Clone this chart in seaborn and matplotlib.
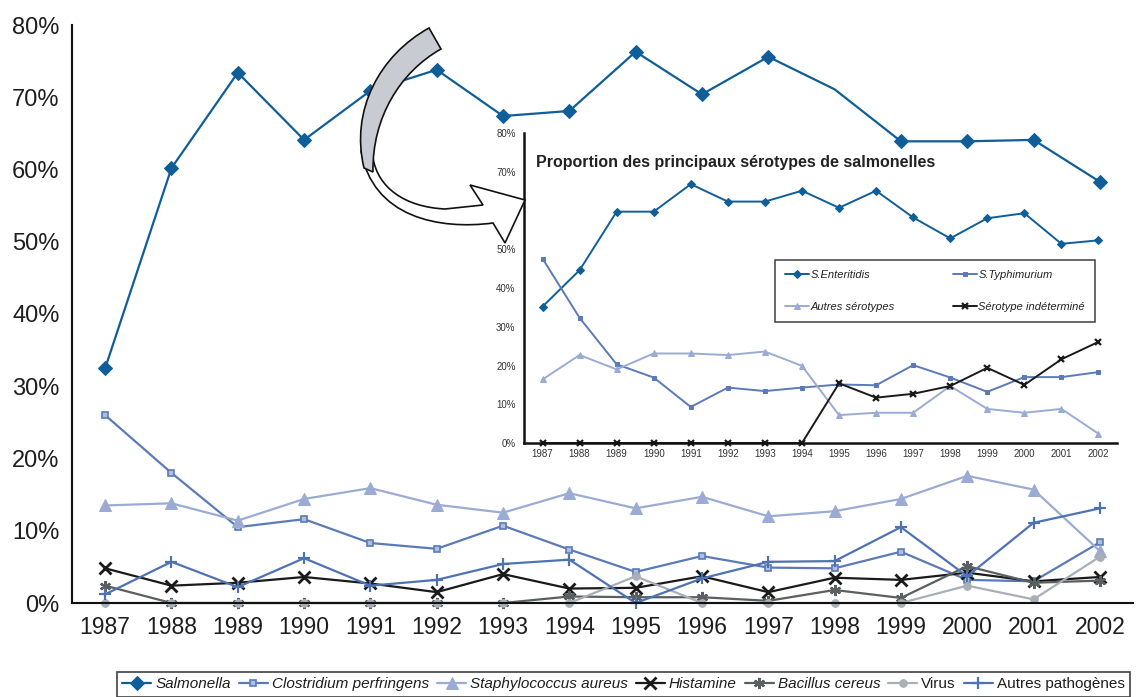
import numpy as np
import pandas as pd
import seaborn as sns
import matplotlib
matplotlib.use("Agg")
import matplotlib.pyplot as plt
from matplotlib.path import Path
from matplotlib.patches import PathPatch
from matplotlib.ticker import FixedLocator, NullFormatter

# ---------------------------------------------------------------- data
years = list(range(1987, 2003))

# Agents responsables des foyers (% des foyers)
salmonella = [32.5, 60.2, 73.4, 64.1, 70.9, 73.8, 67.4, 68.1, 76.3, 70.4, 75.6, 71.1, 63.9, 63.9, 64.1, 58.3]
clostridium = [26.0, 18.0, 10.5, 11.6, 8.3, 7.5, 10.7, 7.4, 4.3, 6.5, 4.9, 4.8, 7.1, 3.2, 3.0, 8.4]
staphylococcus = [13.5, 13.8, 11.4, 14.4, 15.9, 13.6, 12.5, 15.2, 13.1, 14.7, 12.0, 12.7, 14.4, 17.6, 15.7, 7.2]
histamine = [4.8, 2.4, 2.8, 3.6, 2.7, 1.5, 4.0, 2.0, 2.1, 3.7, 1.5, 3.5, 3.2, 4.2, 3.0, 3.6]
bacillus = [2.4, 0.0, 0.0, 0.0, 0.0, 0.0, 0.0, 0.9, 0.8, 0.8, 0.3, 1.8, 0.7, 5.1, 2.8, 3.1]
virus = [0.0, 0.0, 0.0, 0.0, 0.0, 0.0, 0.0, 0.0, 3.7, 0.0, 0.0, 0.0, 0.0, 2.4, 0.5, 6.4]
autres_pathogenes = [1.2, 5.7, 2.2, 6.2, 2.4, 3.2, 5.4, 6.0, 0.0, 3.4, 5.7, 5.8, 10.5, 3.7, 11.1, 13.1]

# Sérotypes de salmonelles (% des foyers à salmonelles)
s_enteritidis = [35.2, 44.6, 59.7, 59.7, 66.8, 62.3, 62.3, 65.1, 60.7, 65.1, 58.2, 52.8, 58.0, 59.3, 51.4, 52.3]
s_typhimurium = [47.6, 32.3, 20.3, 16.9, 9.3, 14.3, 13.4, 14.3, 15.1, 14.9, 20.1, 16.9, 13.2, 17.0, 17.0, 18.3]
autres_serotypes = [16.4, 22.7, 19.0, 23.1, 23.1, 22.7, 23.6, 19.9, 7.2, 7.8, 7.8, 14.7, 8.8, 7.8, 8.8, 2.4]
serotype_indetermine = [0.0, 0.0, 0.0, 0.0, 0.0, 0.0, 0.0, 0.0, 15.4, 11.7, 12.7, 14.7, 19.4, 15.0, 21.6, 26.1]

main_labels = ["Salmonella", "Clostridium perfringens", "Staphylococcus aureus",
               "Histamine", "Bacillus cereus", "Virus", "Autres pathogènes"]
inset_labels = ["S.Enteritidis", "S.Typhimurium", "Autres sérotypes", "Sérotype indéterminé"]
y_ticks = [0, 10, 20, 30, 40, 50, 60, 70, 80]

main_df = pd.DataFrame({"year": years,
                        main_labels[0]: salmonella, main_labels[1]: clostridium,
                        main_labels[2]: staphylococcus, main_labels[3]: histamine,
                        main_labels[4]: bacillus, main_labels[5]: virus,
                        main_labels[6]: autres_pathogenes})
inset_df = pd.DataFrame({"year": years,
                         inset_labels[0]: s_enteritidis, inset_labels[1]: s_typhimurium,
                         inset_labels[2]: autres_serotypes, inset_labels[3]: serotype_indetermine})

# ---------------------------------------------------------------- style
sns.set_theme(style="white")
plt.rcParams["font.family"] = ["Liberation Sans", "DejaVu Sans"]
NARROW = ["Liberation Sans Narrow", "Liberation Sans", "DejaVu Sans"]

c_sal = "#0f5e98"
c_clo = "#5a7ab8"
c_sta = "#9babd3"
c_his = "#1a1a1a"
c_bac = "#5a5f60"
c_vir = "#a9afb6"
c_aut = "#4f72b3"

asterisk = (6, 2, 0)

main_styles = {
    "Salmonella": dict(color=c_sal, marker="D", markersize=7.5, mfc=c_sal, mec=c_sal,
                       markevery=[i for i in range(16) if i != 11]),
    "Clostridium perfringens": dict(color=c_clo, marker="s", markersize=5, mfc="#aebde0", mec=c_clo, mew=1.2),
    "Staphylococcus aureus": dict(color=c_sta, marker="^", markersize=8, mfc=c_sta, mec=c_sta),
    "Histamine": dict(color=c_his, marker="x", markersize=8.5, mew=2.0, mec=c_his),
    "Bacillus cereus": dict(color=c_bac, marker=asterisk, markersize=8, mew=1.6, mec=c_bac),
    "Virus": dict(color=c_vir, marker="o", markersize=5.5, mfc=c_vir, mec=c_vir),
    "Autres pathogènes": dict(color=c_aut, marker="+", markersize=9, mew=1.6, mec=c_aut),
}
inset_styles = {
    "S.Enteritidis": dict(color=c_sal, marker="D", markersize=4.2, mfc=c_sal, mec=c_sal),
    "S.Typhimurium": dict(color=c_clo, marker="s", markersize=3.5, mfc=c_clo, mec=c_clo),
    "Autres sérotypes": dict(color=c_sta, marker="^", markersize=5, mfc=c_sta, mec=c_sta),
    "Sérotype indéterminé": dict(color=c_his, marker="x", markersize=5, mew=1.6, mec=c_his),
}

W, H = 1137, 697
fig = plt.figure(figsize=(W / 100, H / 100), dpi=100)
fig.patch.set_facecolor("white")


def fx(px):
    return px / W


def fy(py):
    return 1 - py / H


# ---------------------------------------------------------------- main chart
ax = fig.add_axes([fx(72), fy(603), fx(1133) - fx(72), fy(25) - fy(603)])
ax.patch.set_visible(False)
for name in main_labels:
    sns.lineplot(data=main_df, x="year", y=name, ax=ax, label=name, linewidth=1.6,
                 clip_on=False, **main_styles[name])
if ax.get_legend() is not None:
    ax.get_legend().remove()

ax.set_xlim(years[0] - 0.5, years[-1] + 0.5)
ax.set_ylim(0, 80)
ax.set_xlabel("")
ax.set_ylabel("")
ax.xaxis.set_major_locator(FixedLocator(years))
ax.set_xticklabels([str(y) for y in years])
ax.xaxis.set_minor_locator(FixedLocator([y - 0.5 for y in years] + [years[-1] + 0.5]))
ax.xaxis.set_minor_formatter(NullFormatter())
ax.tick_params(axis="x", which="major", length=0, pad=9, labelsize=16.5, labelcolor="#1e1e1e")
ax.tick_params(axis="x", which="minor", length=7, width=1.5, color="#111111", direction="out")
ax.set_yticks(y_ticks)
ax.set_yticklabels([f"{v}%" for v in y_ticks])
ax.tick_params(axis="y", length=5, width=1.5, color="#111111", direction="out", pad=4,
               labelsize=17, labelcolor="#1e1e1e")
for side in ("top", "right"):
    ax.spines[side].set_visible(False)
for side in ("left", "bottom"):
    ax.spines[side].set_color("#111111")
    ax.spines[side].set_linewidth(1.5)

handles, labels = ax.get_legend_handles_labels()
leg = fig.legend(handles, labels, ncol=7, loc="upper left",
                 bbox_to_anchor=(fx(117), fy(672) - 0.06, fx(1130) - fx(117), 0.06),
                 mode="expand", borderaxespad=0, frameon=True, fancybox=False,
                 edgecolor="#111111", handlelength=1.9, handletextpad=0.25,
                 columnspacing=0.6, borderpad=0.35, prop={"family": NARROW, "size": 11})
leg.get_frame().set_linewidth(1.2)
for txt in leg.get_texts():
    if txt.get_text() not in ("Virus", "Autres pathogènes"):
        txt.set_fontstyle("italic")
    txt.set_color("#1e1e1e")

# ---------------------------------------------------------------- inset chart
axi = fig.add_axes([fx(524), fy(443), fx(1117) - fx(524), fy(133) - fy(443)], zorder=3)
axi.patch.set_visible(False)
for name in inset_labels:
    sns.lineplot(data=inset_df, x="year", y=name, ax=axi, label=name, linewidth=1.4,
                 clip_on=False, **inset_styles[name])
if axi.get_legend() is not None:
    axi.get_legend().remove()

axi.set_xlim(years[0] - 0.5, years[-1] + 0.5)
axi.set_ylim(0, 80)
axi.set_xlabel("")
axi.set_ylabel("")
axi.xaxis.set_major_locator(FixedLocator(years))
axi.set_xticklabels([str(y) for y in years])
axi.xaxis.set_minor_locator(FixedLocator([y - 0.5 for y in years] + [years[-1] + 0.5]))
axi.xaxis.set_minor_formatter(NullFormatter())
axi.tick_params(axis="x", which="major", length=0, pad=4, labelsize=7, labelcolor="#333333")
axi.tick_params(axis="x", which="minor", length=3.5, width=1.3, color="#111111", direction="out")
axi.set_yticks(y_ticks)
axi.set_yticklabels([f"{v}%" for v in y_ticks])
axi.tick_params(axis="y", length=3, width=1.3, color="#111111", direction="out", pad=3,
                labelsize=7, labelcolor="#333333")
for t in axi.get_xticklabels() + axi.get_yticklabels():
    t.set_family(NARROW)
for side in ("top", "right"):
    axi.spines[side].set_visible(False)
for side in ("left", "bottom"):
    axi.spines[side].set_color("#111111")
    axi.spines[side].set_linewidth(1.8)

fig.text(fx(536), fy(162), "Proportion des principaux sérotypes de salmonelles",
         fontsize=11.5, fontweight="bold", color="#222222", va="center", ha="left", zorder=5)

# row-wise order in a two-column legend
h_in, l_in = axi.get_legend_handles_labels()
order = [0, 2, 1, 3]
leg_in = fig.legend([h_in[i] for i in order], [l_in[i] for i in order], ncol=2, loc="upper left",
                    bbox_to_anchor=(fx(775), fy(260) - 0.05, fx(1095) - fx(775), 0.05),
                    mode="expand", borderaxespad=0, frameon=True, fancybox=False,
                    edgecolor="#111111", handlelength=2.2, handletextpad=0.1,
                    labelspacing=2.0, borderpad=0.9, columnspacing=1.0,
                    prop={"family": NARROW, "size": 8, "style": "italic"})
leg_in.get_frame().set_linewidth(1.1)
leg_in.set_zorder(6)
for txt in leg_in.get_texts():
    txt.set_color("#222222")

# ---------------------------------------------------------------- curved arrow
ov = fig.add_axes([0, 0, 1, 1], zorder=10)
ov.set_xlim(0, W)
ov.set_ylim(H, 0)
ov.axis("off")
ov.patch.set_visible(False)

white_part = Path(
    [(373, 158), (378, 188), (405, 207), (445, 209),
     (483, 205), (470, 185), (525, 200), (505, 243), (493, 223),
     (440, 230), (372, 218), (361, 150), (373, 158)],
    [Path.MOVETO, Path.CURVE4, Path.CURVE4, Path.CURVE4,
     Path.LINETO, Path.LINETO, Path.LINETO, Path.LINETO, Path.LINETO,
     Path.CURVE4, Path.CURVE4, Path.CURVE4, Path.CLOSEPOLY])
ov.add_patch(PathPatch(white_part, facecolor="white", edgecolor="#111111", linewidth=1.2))

gray_part = Path(
    [(429, 28), (380, 55), (350, 110), (364, 168),
     (373, 172), (372, 118), (400, 72), (441, 49), (429, 28)],
    [Path.MOVETO, Path.CURVE4, Path.CURVE4, Path.CURVE4,
     Path.LINETO, Path.CURVE4, Path.CURVE4, Path.CURVE4, Path.CLOSEPOLY])
ov.add_patch(PathPatch(gray_part, facecolor="#c8ccd2", edgecolor="#111111", linewidth=1.2))

fig.savefig("out.png", dpi=100, facecolor="white")
